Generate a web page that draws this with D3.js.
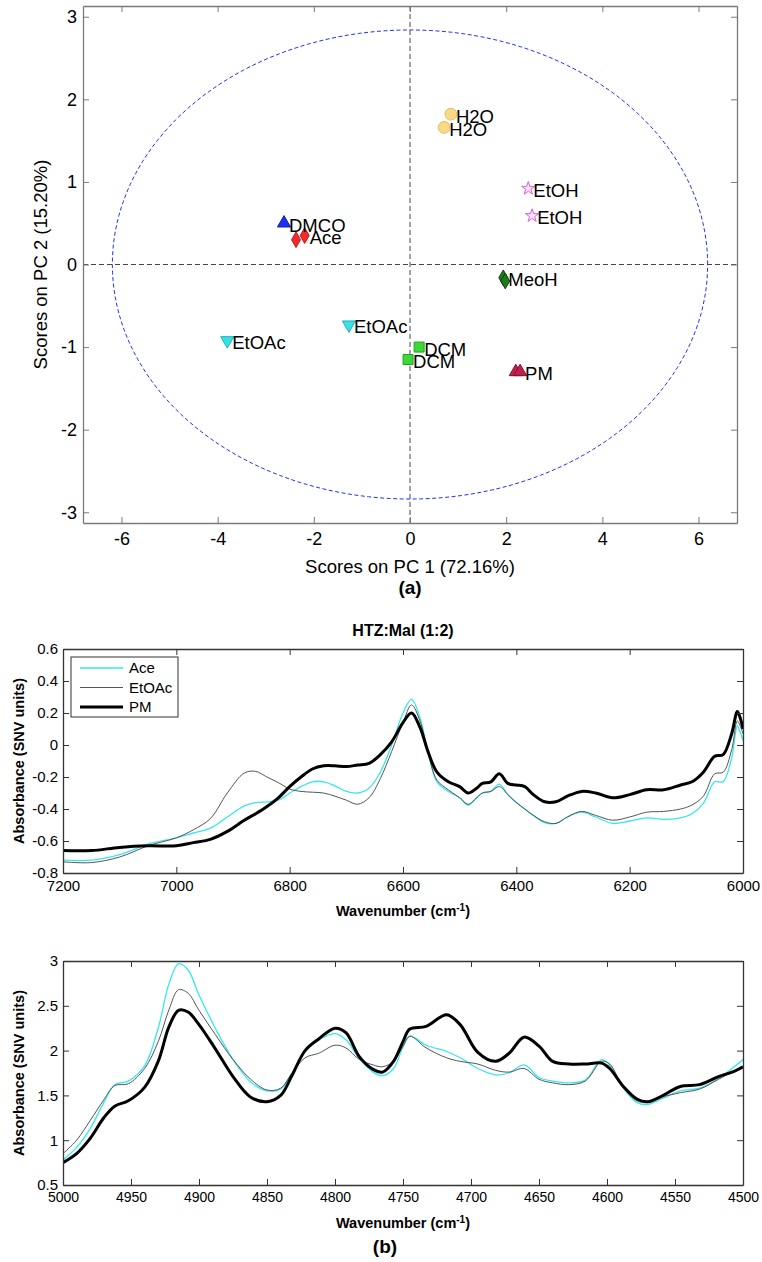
<!DOCTYPE html>
<html>
<head>
<meta charset="utf-8">
<script src="https://cdn.jsdelivr.net/npm/d3@7"></script>
<style>
  body { margin: 0; background: #fff; }
  svg { display: block; }
</style>
</head>
<body>
<script>
// ---------- (a) PCA scores ----------
const scoreSolvent = ["DMCO", "Ace", "Ace", "H2O", "H2O", "EtOH", "EtOH", "MeoH", "MeoH", "DCM", "DCM", "PM", "PM", "EtOAc", "EtOAc"];
const scoreLabel = ["DMCO", "", "Ace", "H2O", "H2O", "EtOH", "EtOH", "MeoH", "", "DCM", "DCM", "", "PM", "EtOAc", "EtOAc"];
const pc1 = [-2.62, -2.37, -2.19, 0.85, 0.71, 2.46, 2.54, 1.94, 1.98, 0.19, -0.04, 2.20, 2.29, -3.80, -1.27];
const pc2 = [0.50, 0.30, 0.35, 1.82, 1.66, 0.92, 0.59, -0.16, -0.20, -1.00, -1.15, -1.30, -1.30, -0.92, -0.73];
const ellipseRadii = [6.19, 2.84];
const pcXTicks = [-6, -4, -2, 0, 2, 4, 6];
const pcYTicks = [-3, -2, -1, 0, 1, 2, 3];

// ---------- (b) NIR spectra, upper window ----------
const wnUpper = [7200, 7150, 7100, 7050, 7000, 6970, 6940, 6910, 6880, 6860, 6840, 6820, 6800, 6780, 6760, 6740, 6720, 6700, 6680, 6660,
  6640, 6620, 6600, 6585, 6570, 6555, 6540, 6520, 6500, 6485, 6470, 6460, 6445, 6430, 6415, 6400, 6385, 6370, 6350, 6330,
  6310, 6285, 6260, 6230, 6200, 6170, 6140, 6110, 6090, 6070, 6050, 6035, 6020, 6010, 6005, 6000];
const aceUpper = [-0.72, -0.72, -0.685, -0.62, -0.58, -0.55, -0.52, -0.45, -0.38, -0.36, -0.355, -0.345, -0.30, -0.26, -0.23, -0.23, -0.255, -0.29, -0.30, -0.27,
  -0.17, 0.0, 0.20, 0.285, 0.17, -0.06, -0.23, -0.29, -0.33, -0.375, -0.33, -0.30, -0.29, -0.245, -0.31, -0.36, -0.40, -0.44, -0.485, -0.49,
  -0.45, -0.42, -0.45, -0.49, -0.475, -0.455, -0.465, -0.455, -0.43, -0.365, -0.23, -0.23, -0.08, 0.12, 0.08, 0.03];
const etoacUpper = [-0.73, -0.735, -0.70, -0.63, -0.58, -0.53, -0.46, -0.30, -0.175, -0.165, -0.20, -0.235, -0.275, -0.29, -0.295, -0.30, -0.32, -0.345, -0.37, -0.33,
  -0.21, -0.04, 0.14, 0.25, 0.15, -0.06, -0.22, -0.28, -0.33, -0.37, -0.33, -0.30, -0.29, -0.26, -0.31, -0.36, -0.40, -0.44, -0.48, -0.49,
  -0.45, -0.415, -0.44, -0.47, -0.45, -0.42, -0.415, -0.40, -0.375, -0.32, -0.18, -0.17, -0.03, 0.15, 0.12, 0.07];
const pmUpper = [-0.66, -0.66, -0.64, -0.63, -0.63, -0.61, -0.59, -0.54, -0.47, -0.43, -0.385, -0.33, -0.26, -0.20, -0.15, -0.13, -0.13, -0.135, -0.125, -0.115,
  -0.06, 0.02, 0.14, 0.20, 0.11, -0.05, -0.17, -0.23, -0.26, -0.30, -0.27, -0.24, -0.23, -0.18, -0.24, -0.25, -0.26, -0.31, -0.355, -0.355,
  -0.32, -0.29, -0.30, -0.33, -0.31, -0.28, -0.28, -0.25, -0.23, -0.17, -0.07, -0.06, 0.07, 0.21, 0.17, 0.10];

// ---------- (b) NIR spectra, lower window ----------
const wnLower = [5000, 4990, 4980, 4970, 4962, 4952, 4940, 4930, 4922, 4915, 4908, 4900, 4888, 4875, 4862, 4850, 4840, 4832, 4822, 4812,
  4800, 4792, 4782, 4772, 4765, 4757, 4750, 4745, 4733, 4718, 4708, 4695, 4682, 4672, 4661, 4650, 4640, 4628, 4616, 4604,
  4598, 4588, 4578, 4570, 4560, 4546, 4532, 4518, 4508, 4500];
const aceLower = [0.78, 0.92, 1.13, 1.42, 1.62, 1.66, 1.83, 2.25, 2.75, 2.97, 2.90, 2.62, 2.25, 1.90, 1.65, 1.55, 1.57, 1.74, 1.99, 2.12,
  2.19, 2.12, 1.91, 1.76, 1.72, 1.80, 2.04, 2.16, 2.06, 1.99, 1.92, 1.80, 1.73, 1.75, 1.84, 1.70, 1.66, 1.64, 1.67, 1.90,
  1.84, 1.58, 1.42, 1.40, 1.46, 1.55, 1.58, 1.69, 1.80, 1.90];
const etoacLower = [0.85, 1.00, 1.22, 1.45, 1.61, 1.63, 1.80, 2.10, 2.46, 2.68, 2.64, 2.45, 2.18, 1.90, 1.68, 1.56, 1.58, 1.74, 1.92, 1.97,
  2.06, 2.03, 1.90, 1.84, 1.82, 1.88, 2.05, 2.16, 2.03, 1.92, 1.88, 1.85, 1.78, 1.76, 1.80, 1.68, 1.64, 1.62, 1.66, 1.88,
  1.85, 1.59, 1.44, 1.42, 1.48, 1.53, 1.57, 1.68, 1.76, 1.82];
const pmLower = [0.75, 0.85, 1.02, 1.25, 1.38, 1.44, 1.59, 1.88, 2.27, 2.45, 2.43, 2.29, 2.02, 1.71, 1.48, 1.43, 1.50, 1.71, 2.00, 2.13,
  2.25, 2.20, 1.93, 1.79, 1.76, 1.88, 2.10, 2.24, 2.27, 2.40, 2.29, 1.98, 1.88, 1.97, 2.15, 2.05, 1.88, 1.85, 1.85, 1.86,
  1.80, 1.60, 1.46, 1.43, 1.49, 1.60, 1.62, 1.71, 1.76, 1.82];

const seriesNames = ["Ace", "EtOAc", "PM"];
const upperTicksX = [7200, 7000, 6800, 6600, 6400, 6200, 6000];
const upperTicksY = [-0.8, -0.6, -0.4, -0.2, 0, 0.2, 0.4, 0.6];
const lowerTicksX = [5000, 4950, 4900, 4850, 4800, 4750, 4700, 4650, 4600, 4550, 4500];
const lowerTicksY = [0.5, 1, 1.5, 2, 2.5, 3];

// styles
const seriesStyle = {
  "Ace": { color: "#35e8ef", width: 1.3 },
  "EtOAc": { color: "#555", width: 1 },
  "PM": { color: "#000", width: 3 }
};
const markerStyle = {
  "DMCO": { type: d3.symbolTriangle, fill: "#1e2cf5", stroke: "#1020b0", size: 75, rot: 0 },
  "Ace": { type: d3.symbolDiamond, fill: "#f52a2a", stroke: "#c01818", size: 70, rot: 0 },
  "H2O": { type: d3.symbolCircle, fill: "#f8d98a", stroke: "#e5bf5c", size: 110, rot: 0 },
  "EtOH": { type: d3.symbolStar, fill: "#fbe4fb", stroke: "#d860d8", size: 55, rot: 0 },
  "MeoH": { type: d3.symbolDiamond, fill: "#1f7a1f", stroke: "#0d430d", size: 70, rot: 0 },
  "DCM": { type: d3.symbolSquare, fill: "#3ad83a", stroke: "#22a022", size: 100, rot: 0 },
  "PM": { type: d3.symbolTriangle, fill: "#c21f4d", stroke: "#7e1030", size: 75, rot: 0 },
  "EtOAc": { type: d3.symbolTriangle, fill: "#36e2e6", stroke: "#20b0b8", size: 75, rot: 180 }
};

const FONT = "Arial, 'Liberation Sans', sans-serif";
const svg = d3.select("body").append("svg")
  .attr("width", 762)
  .attr("height", 1262)
  .style("font-family", FONT);
svg.append("rect").attr("width", 762).attr("height", 1262).attr("fill", "#fff");

const fmt = d => String(+d.toFixed(1));

// box with inward ticks on all four sides
function drawBox(g, x, y, w, h, xTicks, yTicks, opt) {
  const xb = d3.axisBottom(x).tickValues(xTicks).tickSizeInner(-opt.tick).tickSizeOuter(0)
    .tickPadding(opt.padX).tickFormat(opt.xFmt || fmt);
  const xt = d3.axisTop(x).tickValues(xTicks).tickSizeInner(-opt.tick).tickSizeOuter(0).tickFormat("");
  const yl = d3.axisLeft(y).tickValues(yTicks).tickSizeInner(-opt.tick).tickSizeOuter(0)
    .tickPadding(opt.padY).tickFormat(fmt);
  const yr = d3.axisRight(y).tickValues(yTicks).tickSizeInner(-opt.tick).tickSizeOuter(0).tickFormat("");

  const axes = [
    g.append("g").attr("transform", `translate(0,${h})`).call(xb),
    g.append("g").call(xt),
    g.append("g").call(yl),
    g.append("g").attr("transform", `translate(${w},0)`).call(yr)
  ];
  axes.forEach(a => {
    a.select(".domain").attr("stroke", opt.color).attr("stroke-width", 1.3);
    a.selectAll(".tick line").attr("stroke", opt.color);
    a.selectAll(".tick text").attr("fill", "#000")
      .style("font-family", FONT).style("font-size", opt.font + "px");
  });
  if (opt.xFont) axes[0].selectAll(".tick text").style("font-size", opt.xFont + "px");
}

// ================= (a) scores plot =================
const sc = { left: 83, top: 6, width: 654, height: 517 };
const xS = d3.scaleLinear().domain([-6.8, 6.8]).range([0, sc.width]);
const yS = d3.scaleLinear().domain([-3.13, 3.13]).range([sc.height, 0]);
const gA = svg.append("g").attr("transform", `translate(${sc.left},${sc.top})`);

// zero lines
gA.append("line")
  .attr("x1", 0).attr("x2", sc.width).attr("y1", yS(0)).attr("y2", yS(0))
  .attr("stroke", "#444").attr("stroke-dasharray", "5,3");
gA.append("line")
  .attr("x1", xS(0)).attr("x2", xS(0)).attr("y1", 0).attr("y2", sc.height)
  .attr("stroke", "#444").attr("stroke-dasharray", "5,3");

// confidence ellipse
const ellPts = d3.range(0, 361, 2).map(a => [
  ellipseRadii[0] * Math.cos(a * Math.PI / 180),
  ellipseRadii[1] * Math.sin(a * Math.PI / 180)
]);
gA.append("path")
  .attr("d", d3.line().x(d => xS(d[0])).y(d => yS(d[1]))(ellPts))
  .attr("fill", "none")
  .attr("stroke", "#2430ff")
  .attr("stroke-width", 1)
  .attr("stroke-dasharray", "4,2.5");

drawBox(gA, xS, yS, sc.width, sc.height, pcXTicks, pcYTicks,
  { tick: 6, padX: 9, padY: 6, font: 18, color: "#7a7a7a", xFmt: d => String(d) });

// markers
const scores = pc1.map((v, i) => ({ x: v, y: pc2[i], s: scoreSolvent[i], label: scoreLabel[i] }));
gA.selectAll(".pt")
  .data(scores)
  .enter().append("path")
  .attr("class", "pt")
  .attr("transform", d => `translate(${xS(d.x)},${yS(d.y)}) rotate(${markerStyle[d.s].rot})`)
  .attr("d", d => d3.symbol().type(markerStyle[d.s].type).size(markerStyle[d.s].size)())
  .attr("fill", d => markerStyle[d.s].fill)
  .attr("stroke", d => markerStyle[d.s].stroke)
  .attr("stroke-width", 1);

gA.selectAll(".lbl")
  .data(scores.filter(d => d.label !== ""))
  .enter().append("text")
  .attr("class", "lbl")
  .attr("x", d => xS(d.x) + 5)
  .attr("y", d => yS(d.y) + 2)
  .attr("dy", "0.35em")
  .style("font-size", "18.5px")
  .text(d => d.label);

// axis titles
svg.append("text")
  .attr("x", sc.left + xS(0)).attr("y", 573)
  .attr("text-anchor", "middle")
  .style("font-size", "18.5px")
  .text("Scores on PC 1 (72.16%)");
svg.append("text")
  .attr("transform", "rotate(-90)")
  .attr("x", -(sc.top + sc.height / 2)).attr("y", 47)
  .attr("text-anchor", "middle")
  .style("font-size", "18.5px")
  .text("Scores on PC 2 (15.20%)");
svg.append("text")
  .attr("x", sc.left + xS(0)).attr("y", 594)
  .attr("text-anchor", "middle")
  .style("font-size", "19px").style("font-weight", "bold")
  .text("(a)");

// ================= (b) spectra =================
function spectrumPanel(top, wn, series, xDomain, yDomain, xTicks, yTicks, clipId, xFont) {
  const m = { left: 63, top: top, width: 680, height: 224 };
  const x = d3.scaleLinear().domain(xDomain).range([0, m.width]);
  const y = d3.scaleLinear().domain(yDomain).range([m.height, 0]);
  const g = svg.append("g").attr("transform", `translate(${m.left},${m.top})`);

  g.append("clipPath").attr("id", clipId)
    .append("rect").attr("width", m.width).attr("height", m.height);

  const line = d3.line()
    .x((d, i) => x(wn[i]))
    .y(d => y(d))
    .curve(d3.curveCatmullRom.alpha(0.5));

  const lines = g.append("g").attr("clip-path", `url(#${clipId})`);
  seriesNames.forEach((name, k) => {
    lines.append("path")
      .attr("d", line(series[k]))
      .attr("fill", "none")
      .attr("stroke", seriesStyle[name].color)
      .attr("stroke-width", seriesStyle[name].width)
      .attr("stroke-linejoin", "round");
  });

  drawBox(g, x, y, m.width, m.height, xTicks, yTicks,
    { tick: 6, padX: 7, padY: 5, font: 15, xFont: xFont, color: "#333", xFmt: d => String(d) });

  // x label with superscript
  const xl = svg.append("text")
    .attr("x", m.left + m.width / 2).attr("text-anchor", "middle")
    .style("font-size", "14.5px").style("font-weight", "bold");
  xl.append("tspan").text("Wavenumber (cm");
  xl.append("tspan").attr("dy", -5).style("font-size", "10px").text("-1");
  xl.append("tspan").attr("dy", 5).text(")");

  svg.append("text")
    .attr("transform", "rotate(-90)")
    .attr("x", -(m.top + m.height / 2)).attr("y", 24)
    .attr("text-anchor", "middle")
    .style("font-size", "14.5px").style("font-weight", "bold")
    .text("Absorbance (SNV units)");
  return { g, x, y, xl };
}

const up = spectrumPanel(649, wnUpper, [aceUpper, etoacUpper, pmUpper], [7200, 6000], [-0.8, 0.6],
  upperTicksX, upperTicksY, "clipUp", 15);
up.xl.attr("y", 916);

svg.append("text")
  .attr("x", 63 + 340).attr("y", 636)
  .attr("text-anchor", "middle")
  .style("font-size", "16px").style("font-weight", "bold")
  .text("HTZ:Mal (1:2)");

// legend
const leg = svg.append("g").attr("transform", "translate(71,657)");
leg.append("rect").attr("width", 107).attr("height", 60)
  .attr("fill", "#fff").attr("stroke", "#333").attr("stroke-width", 1);
seriesNames.forEach((name, i) => {
  leg.append("line")
    .attr("x1", 9).attr("x2", 52).attr("y1", 11 + i * 19.5).attr("y2", 11 + i * 19.5)
    .attr("stroke", seriesStyle[name].color)
    .attr("stroke-width", seriesStyle[name].width);
  leg.append("text")
    .attr("x", 58).attr("y", 11 + i * 19.5).attr("dy", "0.35em")
    .style("font-size", "15px")
    .text(name);
});

const low = spectrumPanel(961, wnLower, [aceLower, etoacLower, pmLower], [5000, 4500], [0.5, 3],
  lowerTicksX, lowerTicksY, "clipLow", 14);
low.xl.attr("y", 1228);

svg.append("text")
  .attr("x", 385).attr("y", 1253)
  .attr("text-anchor", "middle")
  .style("font-size", "19px").style("font-weight", "bold")
  .text("(b)");
</script>
</body>
</html>
